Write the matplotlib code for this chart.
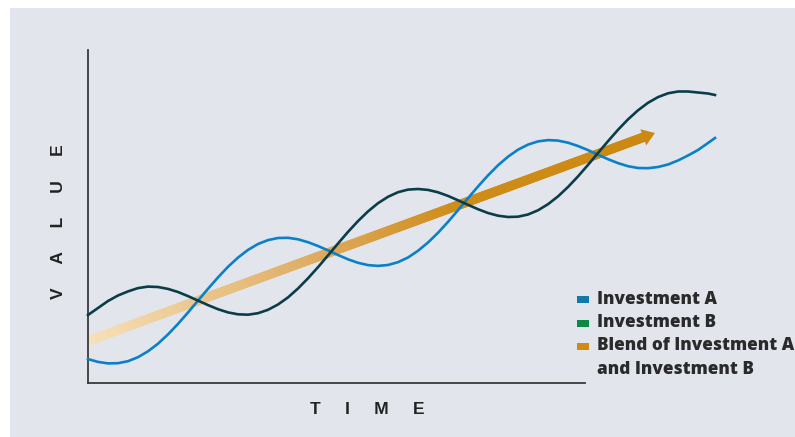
import numpy as np
import matplotlib.pyplot as plt
from matplotlib.collections import LineCollection
from matplotlib.colors import LinearSegmentedColormap
from matplotlib.patches import Rectangle

# time axis (arbitrary units) and the two investments
time = [0, 1, 2, 3, 4, 5, 6, 7, 8, 9, 10, 11, 12, 13, 14, 15, 16, 17, 18, 19, 20,
        21, 22, 23, 24, 25, 26, 27, 28, 29, 30, 31, 32, 33, 34, 35, 36, 37, 38, 39, 40,
        41, 42, 43, 44, 45, 46, 47, 48, 49, 50, 51, 52, 53, 54, 55, 56, 57, 58, 59, 60,
        61, 62, 62.7]
inv_a = [2.39, 2.11, 1.96, 1.98, 2.18, 2.58, 3.17, 3.93, 4.86, 5.91, 7.05,
         8.24, 9.42, 10.56, 11.62, 12.54, 13.31, 13.90, 14.29, 14.50, 14.52,
         14.37, 14.08, 13.70, 13.26, 12.80, 12.37, 12.02, 11.79, 11.71, 11.80,
         12.08, 12.55, 13.22, 14.05, 15.02, 16.11, 17.28, 18.48, 19.65, 20.76,
         21.77, 22.63, 23.33, 23.84, 24.16, 24.29, 24.24, 24.03, 23.70, 23.29,
         22.83, 22.38, 21.99, 21.68, 21.50, 21.48, 21.60, 21.85, 22.25, 22.75,
         23.30, 24.00, 24.50]
inv_b = [6.80, 7.50, 8.20, 8.75, 9.16, 9.49, 9.64, 9.60, 9.41, 9.10, 8.69,
         8.24, 7.79, 7.38, 7.06, 6.87, 6.83, 6.98, 7.32, 7.85, 8.56,
         9.45, 10.47, 11.58, 12.76, 13.95, 15.11, 16.19, 17.16, 17.98, 18.62,
         19.08, 19.34, 19.40, 19.31, 19.07, 18.71, 18.27, 17.82, 17.38, 17.00,
         16.73, 16.60, 16.63, 16.85, 17.27, 17.88, 18.66, 19.60, 20.66, 21.81,
         23.00, 24.18, 25.32, 26.36, 27.27, 28.02, 28.59, 28.97, 29.15, 29.15,
         29.05, 28.95, 28.80]
blend_t = [0, 56.7]
blend_v = [4.2, 25.0]

labels = ['Investment A', 'Investment B', 'Blend of Investment A', 'and Investment B']
legend_colors = ['#117aa9', '#0c8a45', '#cd8a14']

bg = '#e3e5ed'
fig = plt.figure(figsize=(7.95, 4.37), dpi=100)
fig.patch.set_facecolor('white')
fig.add_artist(Rectangle((10/795, 0), 1, 1 - 8/437, transform=fig.transFigure,
                         facecolor=bg, edgecolor='none', zorder=-10))

ax = fig.add_axes([88/795, 54/437, 627/795, 333/437])
ax.set_facecolor('none')
ax.set_xlim(0, 62.7)
ax.set_ylim(0, 33.3)
ax.set_xticks([])
ax.set_yticks([])
for s in ['top', 'right']:
    ax.spines[s].set_visible(False)
for s in ['left', 'bottom']:
    ax.spines[s].set_color('#3a3a3a')
    ax.spines[s].set_linewidth(1.3)
ax.spines['bottom'].set_bounds(0, 49.7)

# blend arrow with a pale-to-orange gradient (overlapping pieces, no seams)
cmap = LinearSegmentedColormap.from_list('blend', [(0, '#f6e0b9'), (0.42, '#ddaa5d'),
                                                    (0.66, '#cf8c18'), (1, '#cc8912')])
n = 120
tt = np.linspace(blend_t[0], blend_t[1] - 0.9, n + 1)
vv = np.interp(tt, blend_t, blend_v)
segs = [[(tt[i], vv[i]), (tt[min(i + 2, n)], vv[min(i + 2, n)])] for i in range(n)]
lc = LineCollection(segs, colors=cmap(np.linspace(0, 1, n)), linewidths=6.8,
                    capstyle='butt', zorder=2)
ax.add_collection(lc)
ax.annotate('', xy=(blend_t[1], blend_v[1]),
            xytext=(blend_t[1] - 2.0, np.interp(blend_t[1] - 2.0, blend_t, blend_v)),
            arrowprops=dict(arrowstyle='-|>,head_length=0.9,head_width=0.62',
                            mutation_scale=10, color='#cc8912', lw=0,
                            shrinkA=0, shrinkB=0), zorder=3)

ax.plot(time, inv_a, color='#0a80c9', lw=1.9, zorder=4, clip_on=False)
ax.plot(time, inv_b, color='#0b3d49', lw=1.9, zorder=4, clip_on=False)

fig.text(59/795, 1 - 222/437, 'V     A     L     U     E', rotation=90, ha='center',
         va='center', fontsize=12.5, fontweight='bold', color='#222222',
         family='Liberation Sans')
fig.text(367/795, 1 - 410/437, 'T     I     M     E', ha='center', va='center',
         fontsize=12.5, fontweight='bold', color='#222222', family='Liberation Sans')

# legend drawn by hand so the square sits on the first line of the blend label
marker_y = [299.7, 323.7, 346.3]
for c, y in zip(legend_colors, marker_y):
    fig.add_artist(Rectangle((577/795, 1 - (y + 3.6)/437), 12/795, 7.2/437,
                             transform=fig.transFigure, facecolor=c, edgecolor='none'))
baselines = [304, 327, 350, 374]
for lab, y in zip(labels, baselines):
    fig.text(597/795, 1 - y/437, lab, ha='left', va='baseline', fontsize=12.3,
             fontweight=800, color='#2a2a2a', family='Open Sans')

plt.savefig('out.png', dpi=100)
